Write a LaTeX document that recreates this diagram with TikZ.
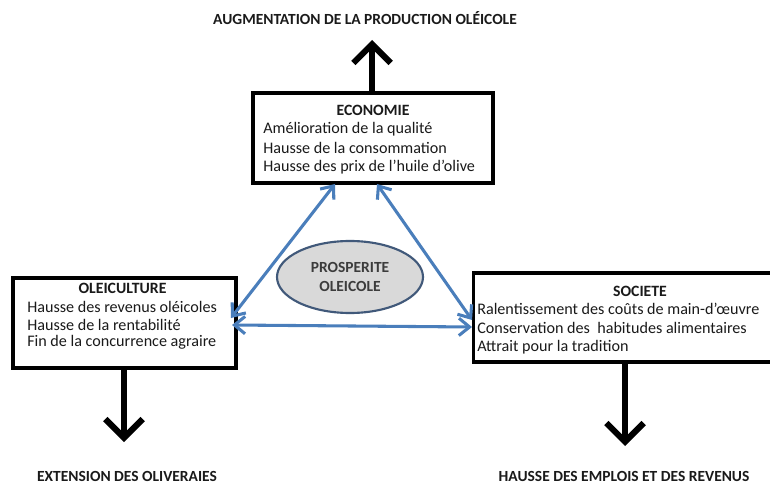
\documentclass[tikz,border=0pt]{standalone}
\usepackage{fontspec}
\setmainfont{Carlito}
\usetikzlibrary{arrows.meta,shapes.geometric}
\definecolor{arrblue}{HTML}{4A7EBB}
\definecolor{ellfill}{HTML}{D9D9D9}
\definecolor{elldraw}{HTML}{41597A}
\definecolor{txtgray}{HTML}{1A1A1A}
\begin{document}
\begin{tikzpicture}[x=0.75pt,y=-0.75pt,
  box/.style={draw=black,line width=2.7pt,fill=white,inner sep=0pt},
  ttl/.style={font=\fontsize{11.8}{13}\selectfont\bfseries,inner sep=0pt,text=txtgray},
  itm/.style={font=\fontsize{12.1}{13}\selectfont,anchor=west,inner sep=0pt,text=txtgray},
  outl/.style={font=\fontsize{11.6}{13}\selectfont\bfseries,inner sep=0pt,text=txtgray},
  bigarr/.style={line width=4.6pt,-{Straight Barb[length=14pt,width=28pt,line width=4.6pt]}},
  bluearr/.style={draw=arrblue,line width=2.3pt,{Straight Barb[length=8pt,width=13pt]}-{Straight Barb[length=8pt,width=13pt]}}
]
\useasboundingbox (0,0) rectangle (770,484);
% boxes
\node[box,minimum width=240*0.75pt,minimum height=90*0.75pt] (eco) at (373,138) {};
\node[box,minimum width=223*0.75pt,minimum height=90*0.75pt] (ole) at (124.5,323) {};
\node[box,minimum width=302*0.75pt,minimum height=89*0.75pt] (soc) at (624.5,317.5) {};
% ellipse
\node[ellipse,draw=elldraw,line width=1.6pt,fill=ellfill,minimum width=146*0.75pt,minimum height=72*0.75pt,inner sep=0pt,
  font=\fontsize{11.6}{14.5}\selectfont\bfseries,text=txtgray!85,align=center] (pros) at (350,277) {PROSPERITE\\OLEICOLE};
% texts economie
\node[ttl] (ecot) at (373,110) {ECONOMIE};
\node[itm] (eco1) at (263,129) {Amélioration de la qualité};
\node[itm] (eco2) at (263,148) {Hausse de la consommation};
\node[itm] (eco3) at (263,167) {Hausse des prix de l’huile d’olive};
% texts oleiculture
\node[ttl] (olet) at (122.5,288) {OLEICULTURE};
\node[itm] (ole1) at (27,307) {Hausse des revenus oléicoles};
\node[itm] (ole2) at (27,324.5) {Hausse de la rentabilité};
\node[itm] (ole3) at (27,342) {Fin de la concurrence agraire};
% texts societe
\node[ttl] (soct) at (640,291) {SOCIETE};
\node[itm] (soc1) at (477,309) {Ralentissement des coûts de main-d’œuvre};
\node[itm] (soc2) at (477,328) {Conservation des\ \ habitudes alimentaires};
\node[itm] (soc3) at (477,347) {Attrait pour la tradition};
% outcome labels
\node[outl] (aug) at (365,18) {AUGMENTATION DE LA PRODUCTION OLÉICOLE};
\node[outl] (ext) at (127,476) {EXTENSION DES OLIVERAIES};
\node[outl] (hau) at (624,476) {HAUSSE DES EMPLOIS ET DES REVENUS};
% coordinates
\coordinate (augtip) at (372,40);
\coordinate (exttip) at (124,442);
\coordinate (hautip) at (625,446);
\coordinate (ecoL) at (335,184);
\coordinate (ecoR) at (377,184);
\coordinate (oleT) at (231,318);
\coordinate (oleB) at (232,325);
\coordinate (socT) at (472,320);
\coordinate (socB) at (472,327);
% black arrows
\draw[bigarr] (eco.north -| augtip) -- (augtip);
\draw[bigarr] (ole.south -| exttip) -- (exttip);
\draw[bigarr] (soc.south -| hautip) -- (hautip);
% blue arrows
\draw[bluearr] (ecoL) -- (oleT);
\draw[bluearr] (ecoR) -- (socT);
\draw[bluearr] (oleB) -- (socB);
\end{tikzpicture}
\end{document}
